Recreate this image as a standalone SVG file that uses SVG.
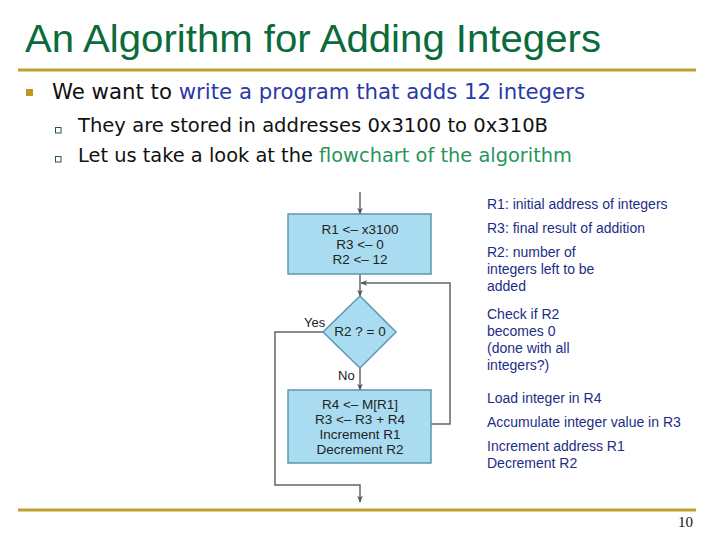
<svg xmlns="http://www.w3.org/2000/svg" width="720" height="540" viewBox="0 0 720 540">
<defs>
<marker id="ah" viewBox="0 0 10 10" refX="9" refY="5" markerWidth="7" markerHeight="7" orient="auto" markerUnits="userSpaceOnUse">
<path d="M0,1 L10,5 L0,9 L3,5 Z" fill="#555"/>
</marker>
<style>
.title{font-family:"Liberation Sans",Arial,sans-serif;font-size:39px;fill:#0b6b3a}
.b1{font-family:"DejaVu Sans",Verdana,sans-serif;font-size:21px;fill:#111}
.b2{font-family:"DejaVu Sans",Verdana,sans-serif;font-size:19px;fill:#111}
.blue{fill:#2a3aa8}
.green{fill:#27955a}
.box{fill:#a9dcf0;stroke:#5c98ae;stroke-width:1.5}
.bt{font-family:"Liberation Sans",Arial,sans-serif;font-size:13.5px;fill:#222;text-anchor:middle}
.lbl{font-family:"Liberation Sans",Arial,sans-serif;font-size:13px;fill:#222}
.conn{fill:none;stroke:#666;stroke-width:1.5}
.note{font-family:"Liberation Sans",Arial,sans-serif;font-size:14px;fill:#1d2d86}
.rule{stroke:#c1a030;stroke-width:3}
</style>
</defs>
<rect width="720" height="540" fill="#fff"/>
<text class="title" x="25" y="52" textLength="576" lengthAdjust="spacingAndGlyphs">An Algorithm for Adding Integers</text>
<line class="rule" x1="18" y1="70" x2="696" y2="70"/>
<rect x="26" y="89" width="7" height="7" fill="#c1961e"/>
<text class="b1" x="52" y="99" textLength="533" lengthAdjust="spacingAndGlyphs">We want to <tspan class="blue">write a program that adds 12 integers</tspan></text>
<rect x="55.5" y="127.5" width="5.5" height="5.5" fill="none" stroke="#2d5a2d" stroke-width="1"/>
<text class="b2" x="78" y="132" textLength="470" lengthAdjust="spacingAndGlyphs">They are stored in addresses 0x3100 to 0x310B</text>
<rect x="55.5" y="156.5" width="5.5" height="5.5" fill="none" stroke="#2d5a2d" stroke-width="1"/>
<text class="b2" x="78" y="162" textLength="494" lengthAdjust="spacingAndGlyphs">Let us take a look at the <tspan class="green">flowchart of the algorithm</tspan></text>

<g id="connectors">
<line class="conn" x1="360" y1="192" x2="360" y2="214" marker-end="url(#ah)"/>
<line class="conn" x1="360" y1="274" x2="360" y2="296" marker-end="url(#ah)"/>
<polyline class="conn" points="431,424 450,424 450,283 361,283" marker-end="url(#ah)"/>
<line class="conn" x1="360" y1="368" x2="360" y2="390" marker-end="url(#ah)"/>
<polyline class="conn" points="323,332 275,332 275,485 360,485 360,502" marker-end="url(#ah)"/>
</g>

<g id="init">
<rect class="box" x="288" y="214" width="143" height="60"/>
<text class="bt" x="360" y="234">R1 &lt;– x3100</text>
<text class="bt" x="360" y="249">R3 &lt;– 0</text>
<text class="bt" x="360" y="264">R2 &lt;– 12</text>
</g>
<g id="test">
<polygon class="box" points="360,296 396,332 360,368 323,332"/>
<text class="bt" x="360" y="336">R2 ? = 0</text>
<text class="lbl" x="304" y="327">Yes</text>
<text class="lbl" x="338" y="380">No</text>
</g>
<g id="body">
<rect class="box" x="288" y="390" width="143" height="73"/>
<text class="bt" x="360" y="409">R4 &lt;– M[R1]</text>
<text class="bt" x="360" y="424">R3 &lt;– R3 + R4</text>
<text class="bt" x="360" y="439">Increment R1</text>
<text class="bt" x="360" y="454">Decrement R2</text>
</g>

<g id="notes">
<text class="note" x="487" y="209">R1: initial address of integers</text>
<text class="note" x="487" y="233">R3: final result of addition</text>
<text class="note" x="487" y="257">R2: number of</text>
<text class="note" x="487" y="274">integers left to be</text>
<text class="note" x="487" y="291">added</text>
<text class="note" x="487" y="319">Check if R2</text>
<text class="note" x="487" y="336">becomes 0</text>
<text class="note" x="487" y="353">(done with all</text>
<text class="note" x="487" y="370">integers?)</text>
<text class="note" x="487" y="403">Load integer in R4</text>
<text class="note" x="487" y="427">Accumulate integer value in R3</text>
<text class="note" x="487" y="451">Increment address R1</text>
<text class="note" x="487" y="468">Decrement R2</text>
</g>

<line class="rule" x1="18" y1="510" x2="696" y2="510"/>
<text x="693" y="527" text-anchor="end" font-family="Liberation Serif,serif" font-size="15" fill="#111">10</text>
</svg>
